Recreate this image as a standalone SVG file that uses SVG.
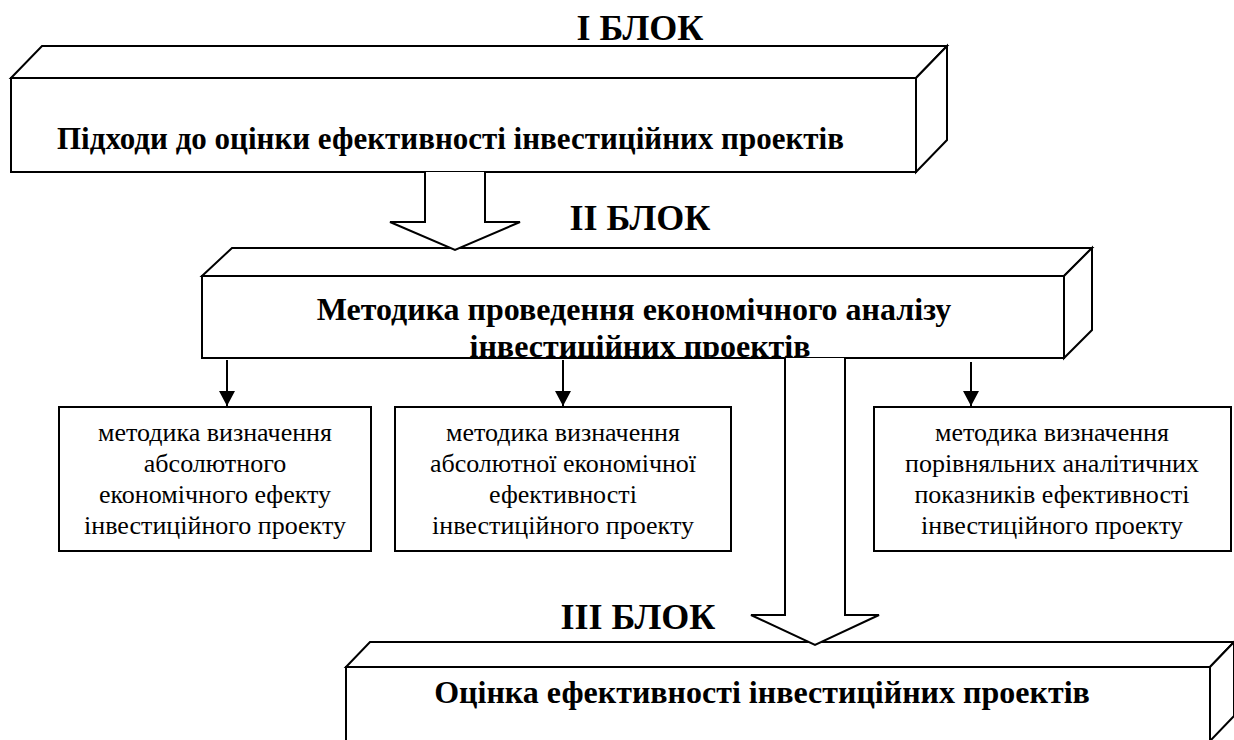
<svg xmlns="http://www.w3.org/2000/svg" width="1234" height="740" viewBox="0 0 1234 740">
<defs>
<marker id="ah" markerUnits="userSpaceOnUse" markerWidth="16" markerHeight="16" viewBox="0 0 16 16" refX="15" refY="8" orient="auto">
<path d="M0,0 L15,8 L0,16 Z" fill="#000"/>
</marker>
<clipPath id="clip2"><rect x="203" y="277" width="860" height="80"/></clipPath>
</defs>
<rect width="1234" height="740" fill="#fff"/>

<text x="640" y="40" font-family="Times New Roman" font-weight="bold" font-size="36" text-anchor="middle">І БЛОК</text>
<text x="640" y="230" font-family="Times New Roman" font-weight="bold" font-size="36" text-anchor="middle">ІІ БЛОК</text>
<text x="638" y="629" font-family="Times New Roman" font-weight="bold" font-size="36" text-anchor="middle">ІІІ БЛОК</text>

<g id="block1" fill="#fff" stroke="#000" stroke-width="2">
<path d="M11,78 L42,46 L947,46 L916,78 Z"/>
<path d="M916,78 L947,46 L947,140 L916,172 Z"/>
<rect x="11" y="78" width="905" height="94"/>
</g>
<text x="57" y="149" font-family="Liberation Serif" font-weight="bold" font-size="31">Підходи до оцінки ефективності інвестиційних проектів</text>

<g id="block2" fill="#fff" stroke="#000" stroke-width="2">
<path d="M202,276 L232,248 L1092,248 L1064,276 Z"/>
<path d="M1064,276 L1092,248 L1092,330 L1064,358 Z"/>
<rect x="202" y="276" width="862" height="82"/>
</g>
<g clip-path="url(#clip2)">
<text x="634" y="320" font-family="serif" font-weight="bold" font-size="32" text-anchor="middle">Методика проведення економічного аналізу</text>
<text x="640" y="357" font-family="serif" font-weight="bold" font-size="32" text-anchor="middle">інвестиційних проектів</text>
</g>

<g id="box1">
<rect x="59" y="407" width="312" height="144" fill="#fff" stroke="#000" stroke-width="2"/>
<text x="215" y="441" font-family="Liberation Serif" font-size="26" text-anchor="middle">методика визначення</text>
<text x="215" y="472" font-family="Liberation Serif" font-size="26" text-anchor="middle">абсолютного</text>
<text x="215" y="503" font-family="Liberation Serif" font-size="26" text-anchor="middle">економічного ефекту</text>
<text x="215" y="534" font-family="Liberation Serif" font-size="26" text-anchor="middle">інвестиційного проекту</text>
</g>

<g id="box2">
<rect x="395" y="407" width="336" height="144" fill="#fff" stroke="#000" stroke-width="2"/>
<text x="563" y="441" font-family="Liberation Serif" font-size="26" text-anchor="middle">методика визначення</text>
<text x="563" y="472" font-family="Liberation Serif" font-size="26" text-anchor="middle">абсолютної економічної</text>
<text x="563" y="503" font-family="Liberation Serif" font-size="26" text-anchor="middle">ефективності</text>
<text x="563" y="534" font-family="Liberation Serif" font-size="26" text-anchor="middle">інвестиційного проекту</text>
</g>

<g id="box4">
<rect x="874" y="407" width="357" height="144" fill="#fff" stroke="#000" stroke-width="2"/>
<text x="1052" y="441" font-family="Liberation Serif" font-size="26" text-anchor="middle">методика визначення</text>
<text x="1052" y="472" font-family="Liberation Serif" font-size="26" text-anchor="middle">порівняльних аналітичних</text>
<text x="1052" y="503" font-family="Liberation Serif" font-size="26" text-anchor="middle">показників ефективності</text>
<text x="1052" y="534" font-family="Liberation Serif" font-size="26" text-anchor="middle">інвестиційного проекту</text>
</g>

<g id="block3" fill="#fff" stroke="#000" stroke-width="2">
<path d="M346,667 L370,642 L1234,642 L1210,667 Z"/>
<path d="M1210,667 L1234,642 L1234,716 L1210,741 Z"/>
<rect x="346" y="667" width="864" height="80"/>
</g>
<text x="762" y="703" font-family="Tinos" font-weight="bold" font-size="32" text-anchor="middle">Оцінка ефективності інвестиційних проектів</text>

<g id="connectors" fill="#fff" stroke="#000" stroke-width="2">
<path d="M425,172 L425,222 L390,222 L455,250 L520,222 L485,222 L485,172"/>
<path d="M785,358 L785,615 L751,615 L815,645 L879,615 L845,615 L845,358"/>
<line x1="227" y1="360" x2="227" y2="406" marker-end="url(#ah)"/>
<line x1="563" y1="360" x2="563" y2="406" marker-end="url(#ah)"/>
<line x1="971" y1="362" x2="971" y2="406" marker-end="url(#ah)"/>
</g>
</svg>
